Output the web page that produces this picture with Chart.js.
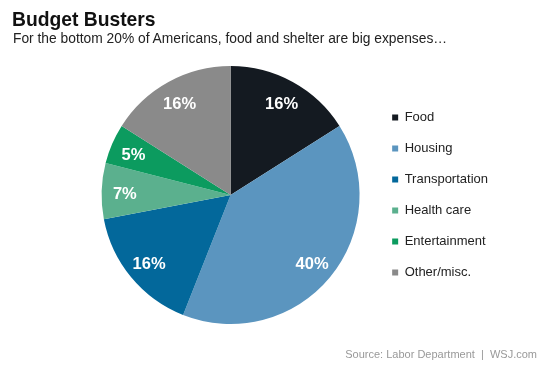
<!DOCTYPE html>
<html>
<head>
<meta charset="utf-8">
<script src="https://cdn.jsdelivr.net/npm/chart.js@4.4.1/dist/chart.umd.min.js"></script>
<style>
  html, body { margin:0; padding:0; background:#fff; }
  body { width:553px; height:369px; position:relative; overflow:hidden; font-family:"Liberation Sans", Arial, sans-serif; }
  #wrap { position:absolute; left:0; top:0; width:553px; height:369px; }
  .t { position:absolute; white-space:nowrap; }
  #title { left:12px; top:10px; font-size:19.3px; line-height:19px; font-weight:bold; color:#111; }
  #sub { left:13px; top:31.5px; font-size:13.8px; line-height:14px; color:#222; }
  #src { right:16px; top:349px; font-size:11px; line-height:11px; color:#999; }
</style>
</head>
<body>
<div id="wrap"><canvas id="c" width="553" height="369"></canvas></div>
<div class="t" id="title">Budget Busters</div>
<div class="t" id="sub">For the bottom 20% of Americans, food and shelter are big expenses…</div>
<div class="t" id="src">Source: Labor Department&nbsp; |&nbsp; WSJ.com</div>
<script>
const categories = ["Food", "Housing", "Transportation", "Health care", "Entertainment", "Other/misc."];
const shares = [16, 40, 16, 7, 5, 16];
const sliceColors = ["#141a21", "#5b95bf", "#03689b", "#5bb08e", "#0c9b5f", "#8a8a8a"];

const sliceLabels = {
  id: "sliceLabels",
  afterDatasetsDraw(chart) {
    const ctx = chart.ctx;
    const meta = chart.getDatasetMeta(0);
    ctx.save();
    ctx.fillStyle = "#ffffff";
    ctx.font = "bold 16.5px 'Liberation Sans', Arial, sans-serif";
    ctx.textAlign = "center";
    ctx.textBaseline = "middle";
    meta.data.forEach((arc, i) => {
      const p = arc.getProps(["x", "y", "startAngle", "endAngle", "outerRadius"], true);
      const mid = (p.startAngle + p.endAngle) / 2;
      const r = p.outerRadius * 0.82;
      ctx.fillText(chart.data.datasets[0].data[i] + "%", p.x + Math.cos(mid) * r, p.y + Math.sin(mid) * r + 2.5);
    });
    ctx.restore();
  }
};

new Chart(document.getElementById("c"), {
  type: "pie",
  data: {
    labels: categories,
    datasets: [{ data: shares, backgroundColor: sliceColors, borderWidth: 0 }]
  },
  options: {
    responsive: false,
    animation: false,
    layout: { padding: { left: 87, top: 66, bottom: 45, right: 55 } },
    plugins: {
      tooltip: { enabled: false },
      legend: {
        position: "right",
        align: "center",
        labels: {
          boxWidth: 6,
          boxHeight: 6,
          padding: 18,
          color: "#222",
          font: { family: "'Liberation Sans', Arial, sans-serif", size: 13 }
        }
      }
    }
  },
  plugins: [sliceLabels]
});
</script>
</body>
</html>
